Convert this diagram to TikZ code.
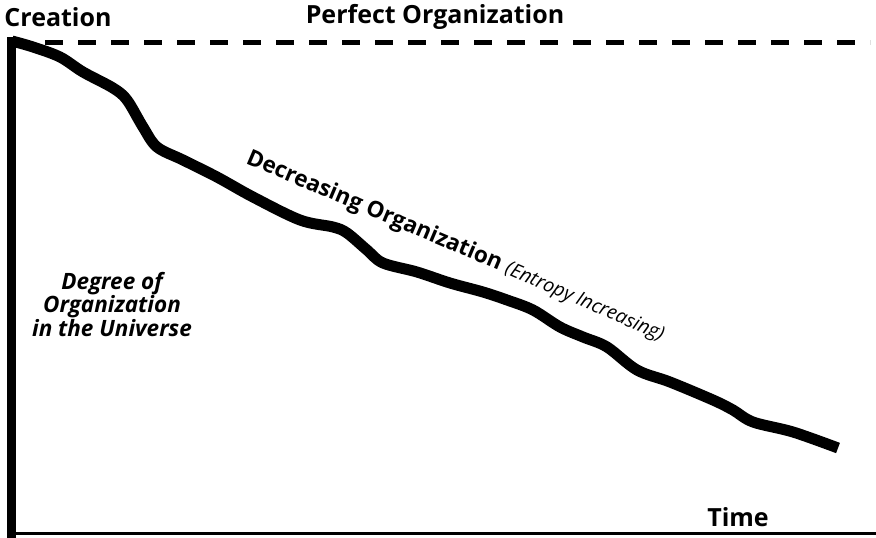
\documentclass[tikz,border=0pt]{standalone}
\usepackage{fontspec}
\setmainfont{Open Sans}
\usepackage{tikz}

\begin{document}
\begin{tikzpicture}[x=1pt,y=-1pt,
  title/.style={font=\fontsize{25}{27}\selectfont\bfseries},
  axislbl/.style={font=\fontsize{22.5}{22}\selectfont\bfseries\itshape,align=center}]
 \useasboundingbox (0,0) rectangle (876,538);

 % perfect organization level
 \draw [line width=5pt,dash pattern=on 18pt off 15pt] (12,42) -- (870,42);

 % axes
 \draw [line width=9pt] (11,37) -- (11,538);
 \draw [line width=3pt] (7,533) -- (876,533);

 \node [title] (creation) at (58,17) {Creation};
 \node [title] (perfect) at (435,17) {Perfect Organization};
 \node [title] (time) at (738,517) {Time};
 \node [axislbl] (degree) at (112,304) {Degree of\\Organization\\in the Universe};

 % the falling curve
 \draw [line width=11pt,line join=round] plot[smooth,tension=0.55] coordinates {
  (12,41) (33,47) (60,57) (83,72) (113,88) (127,100) (143,127) (157,147)
  (183,160) (217,177) (253,197) (300,220) (333,227) (347,233) (367,250)
  (383,263) (417,272) (450,283) (483,292) (507,300) (533,310) (560,327)
  (583,337) (607,347) (637,370) (670,382) (713,400) (733,410) (753,422)
  (793,432) (838,448)};

 \node [font=\fontsize{22.5}{24}\selectfont\bfseries,rotate=-23,anchor=base west,inner sep=0pt]
  (decr) at (245,163) {Decreasing Organization};
 \node [font=\fontsize{19.5}{21}\selectfont\itshape,rotate=-23.5,anchor=base west,inner sep=0pt]
  (entropy) at ([shift={(5,2)}]decr.base east) {(Entropy Increasing)};
\end{tikzpicture}
\end{document}
